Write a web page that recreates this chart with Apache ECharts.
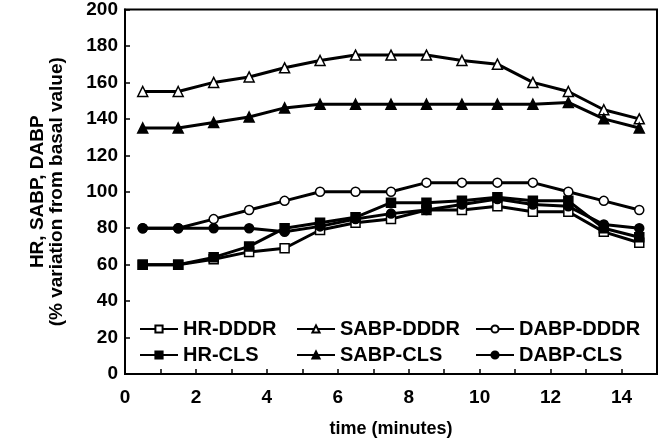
<!DOCTYPE html>
<html>
<head>
<meta charset="utf-8">
<script src="https://cdn.jsdelivr.net/npm/echarts@6/dist/echarts.min.js"></script>
<style>
  html, body { margin: 0; padding: 0; background: #fff; }
  #main { width: 660px; height: 444px; }
</style>
</head>
<body>
<div id="main"></div>
<script>
// time points (minutes)
var times = [0.5, 1.5, 2.5, 3.5, 4.5, 5.5, 6.5, 7.5, 8.5, 9.5, 10.5, 11.5, 12.5, 13.5, 14.5];

var hrDDDR   = [60, 60, 63, 67, 69, 79, 83, 85, 90, 90, 92, 89, 89, 78, 72];
var sabpDDDR = [155, 155, 160, 163, 168, 172, 175, 175, 175, 172, 170, 160, 155, 145, 140];
var dabpDDDR = [80, 80, 85, 90, 95, 100, 100, 100, 105, 105, 105, 105, 100, 95, 90];
var hrCLS    = [60, 60, 64, 70, 80, 83, 86, 94, 94, 95, 97, 95, 95, 80, 75];
var sabpCLS  = [135, 135, 138, 141, 146, 148, 148, 148, 148, 148, 148, 148, 149, 140, 135];
var dabpCLS  = [80, 80, 80, 80, 78, 81, 85, 88, 90, 93, 96, 93, 92, 82, 80];

var seriesNames = ['HR-DDDR', 'SABP-DDDR', 'DABP-DDDR', 'HR-CLS', 'SABP-CLS', 'DABP-CLS'];
var seriesData = [hrDDDR, sabpDDDR, dabpDDDR, hrCLS, sabpCLS, dabpCLS];
var symbols = ['rect', 'triangle', 'circle', 'rect', 'triangle', 'circle'];
var filled = [false, false, false, true, true, true];

var font = '"Liberation Sans", Arial, sans-serif';

var chart = echarts.init(document.getElementById('main'), null, { renderer: 'canvas' });

var series = seriesNames.map(function (name, i) {
    return {
        name: name,
        type: 'line',
        data: seriesData[i].map(function (v, j) { return [times[j], v]; }),
        symbol: symbols[i],
        symbolSize: symbols[i] === 'triangle' ? 10 : 9,
        showAllSymbol: true,
        lineStyle: { color: '#000', width: 3 },
        itemStyle: {
            color: filled[i] ? '#000' : '#fff',
            borderColor: '#000',
            borderWidth: 1.5
        },
        z: filled[i] ? 3 : 2,
        animation: false
    };
});

// one legend per item so the two rows line up in columns
var legendPos = [
    [139, 319], [296, 319], [475, 319],
    [139, 345], [296, 345], [475, 345]
];
var legends = seriesNames.map(function (name, i) {
    return {
        data: [name],
        left: legendPos[i][0],
        top: legendPos[i][1],
        itemWidth: 38,
        itemHeight: 9,
        itemGap: 3,
        padding: 0,
        textStyle: { fontFamily: font, fontSize: 20, fontWeight: 'bold', color: '#000' }
    };
});

var option = {
    animation: false,
    backgroundColor: '#fff',
    grid: {
        left: 125, right: 2, top: 9, bottom: 70,
        show: true, borderColor: '#000', borderWidth: 2
    },
    legend: legends,
    xAxis: {
        type: 'value',
        min: 0, max: 15, interval: 1,
        name: 'time (minutes)',
        nameLocation: 'middle',
        nameGap: 46,
        nameTextStyle: { fontFamily: font, fontSize: 18, fontWeight: 'bold', color: '#000' },
        axisLine: { lineStyle: { color: '#000', width: 2 } },
        axisTick: { inside: true, length: 5, lineStyle: { color: '#000', width: 1.5 } },
        axisLabel: {
            fontFamily: font, fontSize: 19, fontWeight: 'bold', color: '#000', margin: 14,
            formatter: function (v) { return (v % 2 === 0 && v < 15) ? String(v) : ''; }
        },
        splitLine: { show: false }
    },
    yAxis: {
        type: 'value',
        min: 0, max: 200, interval: 20,
        name: 'HR, SABP, DABP\n(% variation from basal value)',
        nameLocation: 'middle',
        nameGap: 59,
        nameTextStyle: { fontFamily: font, fontSize: 19, fontWeight: 'bold', color: '#000', lineHeight: 19 },
        axisLine: { lineStyle: { color: '#000', width: 2 } },
        axisTick: { inside: true, length: 5, lineStyle: { color: '#000', width: 1.5 } },
        axisLabel: { fontFamily: font, fontSize: 19, fontWeight: 'bold', color: '#000', margin: 7 },
        splitLine: { show: false }
    },
    series: series
};

chart.setOption(option);
</script>
</body>
</html>
